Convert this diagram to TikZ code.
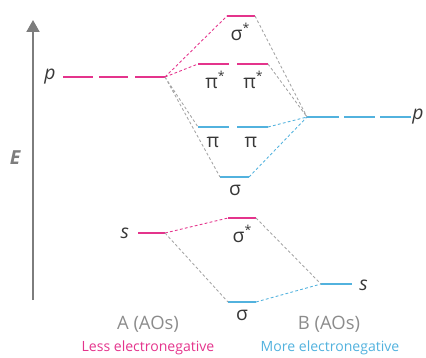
\documentclass[tikz,border=0pt]{standalone}
\usepackage{fontspec}
\setmainfont{Open Sans}
\usepackage{tikz}
\usetikzlibrary{arrows.meta}
\definecolor{level pink}{RGB}{228,52,140}
\definecolor{level blue}{RGB}{82,178,222}
\definecolor{link gray}{RGB}{165,165,165}
\definecolor{axis gray}{RGB}{125,125,125}
\definecolor{label gray}{RGB}{55,55,55}
\definecolor{ao gray}{RGB}{140,140,140}
\newcommand{\starred}[1]{#1\raisebox{0.75ex}{\fontsize{7}{8}\selectfont *}}

\begin{document}
\begin{tikzpicture}[x=0.02cm, y=-0.02cm,
		level/.style={line width=1.1pt},
		link/.style={line width=0.5pt, dash pattern=on 1.6pt off 1.3pt},
		orb/.style={text=label gray, font=\fontsize{11}{12}\selectfont, inner sep=1pt},
		side/.style={font=\fontsize{8}{10}\selectfont, inner sep=0pt}]
		\useasboundingbox (0,0) rectangle (426,358);
		% energy axis
		\draw[axis gray, line width=1.1pt, -{Triangle[length=0.24cm, width=0.26cm]}] (33,300) -- (33,20);
		\node[text=axis gray, font=\fontsize{11}{12}\selectfont\bfseries\itshape] (E) at (15,158) {E};
		% part for A
		\begin{scope}
			\coordinate (pA) at (165,77);
			\coordinate (sA) at (165,233);
			\draw[level, level pink] (63,77) -- (93,77) (99,77) -- (128,77) (135,77) -- (pA);
			\draw[level, level pink] (138,233) -- (sA);
			\node[orb, left=3pt] (pAlbl) at (63,77) {\textit{p}};
			\node[orb, left=4pt] (sAlbl) at (138,233) {\textit{s}};
		\end{scope}
		% part for B
		\begin{scope}
			\coordinate (pB) at (307,117);
			\coordinate (sB) at (321,284);
			\draw[level, level blue] (pB) -- (339,117) (344,117) -- (375,117) (380,117) -- (411,117);
			\draw[level, level blue] (sB) -- (352,284);
			\node[orb, anchor=west, inner sep=0pt] (pBlbl) at (412,117) {\textit{p}};
			\node[orb, right=3pt] (sBlbl) at (352,285) {\textit{s}};
		\end{scope}
		% molecular orbitals from p
		\begin{scope}
			\coordinate (sgsL) at (227,16);
			\coordinate (sgsR) at (255,16);
			\coordinate (pisL) at (198,64);
			\coordinate (pisR) at (268,64);
			\coordinate (piL) at (198,127);
			\coordinate (piR) at (268,127);
			\coordinate (sgL) at (220,177);
			\coordinate (sgR) at (249,177);
			\draw[level, level pink] (sgsL) -- (sgsR)
				(pisL) -- (229,64) (237,64) -- (pisR);
			\draw[level, level blue] (piL) -- (229,127) (237,127) -- (piR)
				(sgL) -- (sgR);
			\node[orb] (sgslbl) at (240,32) {\starred{σ}};
			\node[orb] (pis1lbl) at (215,80) {\starred{π}};
			\node[orb] (pis2lbl) at (253,80) {\starred{π}};
			\node[orb] (pi1lbl) at (213,142) {π};
			\node[orb] (pi2lbl) at (251,142) {π};
			\node[orb] (sglbl) at (235,190) {σ};
		\end{scope}
		% molecular orbitals from s
		\begin{scope}
			\coordinate (ssL) at (228,218);
			\coordinate (ssR) at (256,218);
			\coordinate (sL) at (228,302);
			\coordinate (sR) at (256,302);
			\draw[level, level pink] (ssL) -- (ssR);
			\draw[level, level blue] (sL) -- (sR);
			\node[orb] (sslbl) at (242,234) {\starred{σ}};
			\node[orb] (slbl) at (242,315) {σ};
		\end{scope}
		% correlation lines
		\draw[link, level pink] (pA) -- (sgsL) (pA) -- (pisL) (sA) -- (ssL);
		\draw[link, link gray] (pA) -- (piL) (pA) -- (sgL) (sA) -- (sL)
			(sgsR) -- (pB) (pisR) -- (pB) (ssR) -- (sB);
		\draw[link, level blue] (piR) -- (pB) (sgR) -- (pB) (sR) -- (sB);
		% captions
		\node[text=ao gray, font=\fontsize{10.5}{12}\selectfont] (Acap) at (148,324) {A (AOs)};
		\node[text=ao gray, font=\fontsize{10.5}{12}\selectfont] (Bcap) at (329,324) {B (AOs)};
		\node[side, text=level pink] (Aneg) at (148,348) {Less electronegative};
		\node[side, text=level blue] (Bneg) at (330,348) {More electronegative};
\end{tikzpicture}
\end{document}
